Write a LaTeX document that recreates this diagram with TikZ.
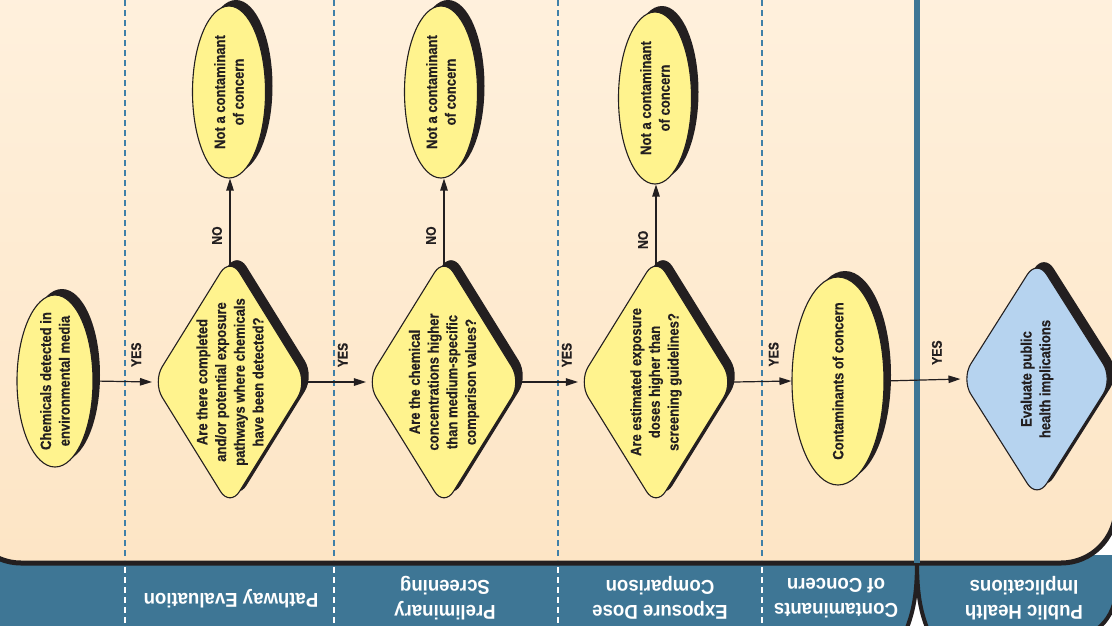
\documentclass[tikz,border=0pt]{standalone}
\usepackage{fontspec}
\setmainfont{Liberation Sans}
\newfontfamily\condfont{Liberation Sans}[FakeStretch=0.87, BoldFeatures={FakeBold=0.5}]
\newfontfamily\bandfont{Liberation Sans}[FakeStretch=0.93]
\usetikzlibrary{shapes.geometric,arrows.meta,calc}
\pgfdeclarelayer{bg}
\pgfdeclarelayer{conn}
\pgfsetlayers{bg,conn,main}
\definecolor{creamT}{HTML}{FFF2E0}
\definecolor{creamB}{HTML}{FDE5C5}
\definecolor{bandblue}{HTML}{3E7695}
\definecolor{dashblue}{HTML}{3F80A8}
\definecolor{yel}{HTML}{FFF38E}
\definecolor{lblue}{HTML}{B6D3EF}
\definecolor{ink}{HTML}{231F20}
\tikzset{
  shad/.style={preaction={fill=ink, transform canvas={xshift=7pt, yshift=6pt}}},
  base/.style={draw=ink, line width=1.1pt, shad, rotate=90, inner sep=0pt},
  ell/.style={base, ellipse, fill=yel},
  dia/.style={base, diamond, fill=yel, rounded corners=18pt, minimum width=250pt, minimum height=155pt},
  txt/.style={rotate=90, align=center, text=ink, inner sep=0pt, font=\condfont\bfseries\fontsize{15}{18.7}\selectfont},
  lbl/.style={text=ink, inner sep=0pt, font=\condfont\bfseries\fontsize{14}{16}\selectfont},
  yes/.style={lbl, yshift=27pt, rotate=90},
  no/.style={lbl, xshift=-13pt, rotate=90},
  arr/.style={draw=ink, line width=1.2pt, -{Triangle[length=12pt,width=7.5pt]}},
  band/.style={rotate=180, align=center, text=white, inner sep=0pt, font=\bandfont\bfseries\fontsize{20}{25}\selectfont},
  sepline/.style={line width=1.4pt, dash pattern=on 6pt off 4pt},
  tabedge/.style={draw=ink, line width=4pt},
}
\begin{document}
\begin{tikzpicture}[x=1pt,y=-1pt]
\useasboundingbox (0,0) rectangle (1112,625);
\begin{pgfonlayer}{bg}
  \fill[white] (0,0) rectangle (1112,625);
  % bottom tabs
  \fill[bandblue] (-60,555) -- (917,555) .. controls (917,598) and (913,615) .. (902,640) -- (-60,640) -- cycle;
  \fill[bandblue] (917,555) -- (1116,555) -- (1116,590) .. controls (1116,617.6) and (1093.6,640) .. (1066,640) -- (932,640) .. controls (921,615) and (917,598) .. (917,555) -- cycle;
  \draw[tabedge] (917,560) .. controls (917,598) and (913,615) .. (902,640);
  \draw[tabedge] (917,560) .. controls (917,598) and (921,615) .. (932,640);
  \draw[tabedge] (1116,560) -- (1116,590) .. controls (1116,617.6) and (1093.6,640) .. (1066,640);
  % cream panel
  \shade[top color=creamT, bottom color=creamB, rounded corners=55pt] (-34,-80) rectangle (1116,563);
  \draw[ink, line width=5pt, rounded corners=55pt] (-34,420) -- (-34,563) -- (1116,563) -- (1116,420);
  % separators
  \draw[bandblue, line width=6pt] (917,-5) -- (917,563);
  \foreach \x in {125,334,558,762} {
    \draw[sepline, dashblue] (\x,0) -- (\x,560);
    \draw[sepline, white] (\x,567) -- (\x,625);
  }
\end{pgfonlayer}

% shapes
\node[ell, minimum width=172pt, minimum height=76pt] (e1) at (55,381) {};
\node[txt] (e1t) at (e1) {Chemicals detected in\\environmental media};

\node[dia] (d1) at (230,382) {};
\node[txt] (d1t) at (d1) {Are there completed\\and/or potential exposure\\pathways where chemicals\\have been detected?};
\node[ell, minimum width=172pt, minimum height=73pt] (n1) at (229,92) {};
\node[txt] (n1t) at (n1) {Not a contaminant\\of concern};

\node[dia] (d2) at (444,382) {};
\node[txt] (d2t) at (d2) {Are the chemical\\concentrations higher\\than medium-specific\\comparison values?};
\node[ell, minimum width=172pt, minimum height=73pt] (n2) at (441,92) {};
\node[txt] (n2t) at (n2) {Not a contaminant\\of concern};

\node[dia] (d3) at (656,382) {};
\node[txt] (d3t) at (d3) {Are estimated exposure\\doses higher than\\screening guidelines?};
\node[ell, minimum width=172pt, minimum height=73pt] (n3) at (655,98) {};
\node[txt] (n3t) at (n3) {Not a contaminant\\of concern};

\node[ell, minimum width=208pt, minimum height=92pt] (c1) at (838,381) {};
\node[txt] (c1t) at (c1) {Contaminants of concern};

\node[dia, fill=lblue, minimum width=240pt, minimum height=152pt] (d4) at (1037,379) {};
\node[txt] (d4t) at (d4) {Evaluate public\\health implications};

% band labels
\node[band] (b1) at (231,599) {Pathway Evaluation};
\node[band] (b2) at (445,598) {Preliminary\\Screening};
\node[band] (b3) at (660,598) {Exposure Dose\\Comparison};
\node[band] (b4) at (836,598) {Contaminants\\of Concern};
\node[band] (b5) at (1024,598) {Public Health\\Implications};

% connectors
\begin{pgfonlayer}{conn}
  \draw[arr] (e1.south) -- node[yes, pos=.73] (y1) {YES} (d1.north);
  \draw[arr] (d1.south) -- node[yes, pos=.6] (y2) {YES} (d2.north);
  \draw[arr] (d2.south) -- node[yes, pos=.8] (y3) {YES} (d3.north);
  \draw[arr] (d3.south) -- node[yes, pos=.69] (y4) {YES} (c1.north);
  \draw[arr] (c1.south) -- node[yes, pos=.69] (y5) {YES} (d4.north);
  \draw[arr] (d1.center) -- node[no, pos=.72] (o1) {NO} (d1.center |- n1.west);
  \draw[arr] (d2.center) -- node[no, pos=.72] (o2) {NO} (d2.center |- n2.west);
  \draw[arr] (d3.center) -- node[no, pos=.72] (o3) {NO} (d3.center |- n3.west);
\end{pgfonlayer}
\end{tikzpicture}
\end{document}
